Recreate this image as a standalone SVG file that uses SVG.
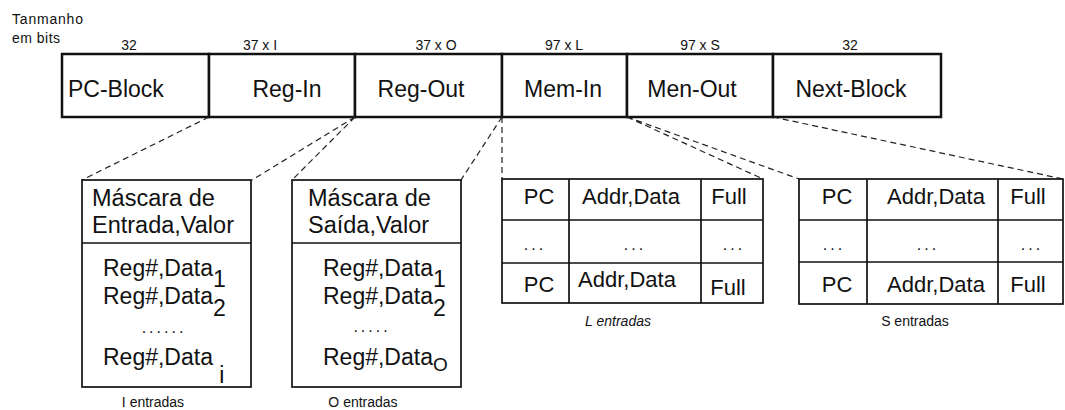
<svg xmlns="http://www.w3.org/2000/svg" width="1065" height="410" viewBox="0 0 1065 410">
<style>
text{font-family:"Liberation Sans",Arial,sans-serif;fill:#111}
.lbl{font-size:23px}
.big{font-size:23.5px}
.small{font-size:14px}
.cell{font-size:22px;text-anchor:middle}
.dots{font-size:16px;text-anchor:middle;letter-spacing:3px}
.bar{fill:#fff;stroke:#111;stroke-width:2.5}
.box{fill:#fff;stroke:#111;stroke-width:1.7}
.ln{stroke:#111;stroke-width:1.7;fill:none}
.dash{stroke:#222;stroke-width:1.2;stroke-dasharray:6 4;fill:none}
</style>
<rect width="1065" height="410" fill="#fff"/>
<g id="header">
<text class="small" x="12" y="24" textLength="71">Tanmanho</text>
<text class="small" x="12" y="43" textLength="48">em bits</text>
<text class="small" x="129" y="50" text-anchor="middle">32</text>
<text class="small" x="260" y="50" text-anchor="middle">37 x I</text>
<text class="small" x="436" y="50" text-anchor="middle">37 x O</text>
<text class="small" x="564" y="50" text-anchor="middle">97 x L</text>
<text class="small" x="700" y="50" text-anchor="middle">97 x S</text>
<text class="small" x="850" y="50" text-anchor="middle">32</text>
</g>
<g id="pc-block"><rect class="bar" x="62" y="54" width="147" height="63"/><text class="lbl" x="68" y="97">PC-Block</text></g>
<g id="reg-in"><rect class="bar" x="209" y="54" width="146" height="63"/><text class="lbl" x="287" y="97" text-anchor="middle">Reg-In</text></g>
<g id="reg-out"><rect class="bar" x="355" y="54" width="147" height="63"/><text class="lbl" x="421" y="97" text-anchor="middle">Reg-Out</text></g>
<g id="mem-in"><rect class="bar" x="502" y="54" width="125" height="63"/><text class="lbl" x="563" y="97" text-anchor="middle">Mem-In</text></g>
<g id="men-out"><rect class="bar" x="627" y="54" width="146" height="63"/><text class="lbl" x="692" y="97" text-anchor="middle">Men-Out</text></g>
<g id="next-block"><rect class="bar" x="773" y="54" width="168" height="63"/><text class="lbl" x="851" y="97" text-anchor="middle">Next-Block</text></g>
<g id="connectors">
<line class="dash" x1="209" y1="117" x2="82" y2="180"/>
<line class="dash" x1="355" y1="117" x2="252" y2="180"/>
<line class="dash" x1="355" y1="117" x2="292" y2="180"/>
<line class="dash" x1="502" y1="117" x2="461" y2="180"/>
<line class="dash" x1="502" y1="117" x2="502" y2="179"/>
<line class="dash" x1="627" y1="117" x2="763" y2="179"/>
<line class="dash" x1="627" y1="117" x2="799" y2="179"/>
<line class="dash" x1="773" y1="117" x2="1063" y2="179"/>
</g>
<g id="reg-in-detail">
<rect class="box" x="82" y="180" width="169" height="207"/>
<line class="ln" x1="82" y1="243" x2="251" y2="243"/>
<text class="big" x="92" y="206">Máscara de</text>
<text class="big" x="92" y="233">Entrada,Valor</text>
<text class="lbl" x="103" y="276">Reg#,Data<tspan dy="11">1</tspan></text>
<text class="lbl" x="103" y="304">Reg#,Data<tspan dy="12">2</tspan></text>
<text class="dots" x="164" y="333">......</text>
<text class="lbl" x="103" y="365">Reg#,Data <tspan dy="18">i</tspan></text>
<text class="small" x="153" y="407" text-anchor="middle">I entradas</text>
</g>
<g id="reg-out-detail">
<rect class="box" x="292" y="180" width="169" height="207"/>
<line class="ln" x1="292" y1="243" x2="461" y2="243"/>
<text class="big" x="308" y="206">Máscara de</text>
<text class="big" x="308" y="233">Saída,Valor</text>
<text class="lbl" x="323" y="276">Reg#,Data<tspan dy="11">1</tspan></text>
<text class="lbl" x="323" y="304">Reg#,Data<tspan dy="12">2</tspan></text>
<text class="dots" x="372" y="332">.....</text>
<text class="lbl" x="323" y="365">Reg#,Data<tspan dy="6" font-size="19">O</tspan></text>
<text class="small" x="363" y="407" text-anchor="middle">O entradas</text>
</g>
<g id="mem-in-table">
<rect class="box" x="502" y="179" width="261" height="124"/>
<line class="ln" x1="502" y1="220" x2="763" y2="220"/>
<line class="ln" x1="502" y1="263" x2="763" y2="263"/>
<line class="ln" x1="569" y1="179" x2="569" y2="303"/>
<line class="ln" x1="701" y1="179" x2="701" y2="303"/>
<text class="cell" x="539" y="204">PC</text>
<text class="cell" x="631" y="204">Addr,Data</text>
<text class="cell" x="729" y="204">Full</text>
<text class="dots" x="535" y="250">...</text>
<text class="dots" x="635" y="250">...</text>
<text class="dots" x="734" y="250">...</text>
<text class="cell" x="539" y="292">PC</text>
<text class="cell" x="627" y="287">Addr,Data</text>
<text class="cell" x="728" y="295">Full</text>
<text class="small" x="618" y="326" text-anchor="middle" font-style="italic">L entradas</text>
</g>
<g id="men-out-table">
<rect class="box" x="799" y="179" width="264" height="125"/>
<line class="ln" x1="799" y1="220" x2="1063" y2="220"/>
<line class="ln" x1="799" y1="262" x2="1063" y2="262"/>
<line class="ln" x1="867" y1="179" x2="867" y2="304"/>
<line class="ln" x1="998" y1="179" x2="998" y2="304"/>
<text class="cell" x="837" y="204">PC</text>
<text class="cell" x="936" y="204">Addr,Data</text>
<text class="cell" x="1028" y="204">Full</text>
<text class="dots" x="834" y="250">...</text>
<text class="dots" x="928" y="250">...</text>
<text class="dots" x="1032" y="250">...</text>
<text class="cell" x="837" y="292">PC</text>
<text class="cell" x="936" y="292">Addr,Data</text>
<text class="cell" x="1028" y="292">Full</text>
<text class="small" x="915" y="326" text-anchor="middle">S entradas</text>
</g>
</svg>
